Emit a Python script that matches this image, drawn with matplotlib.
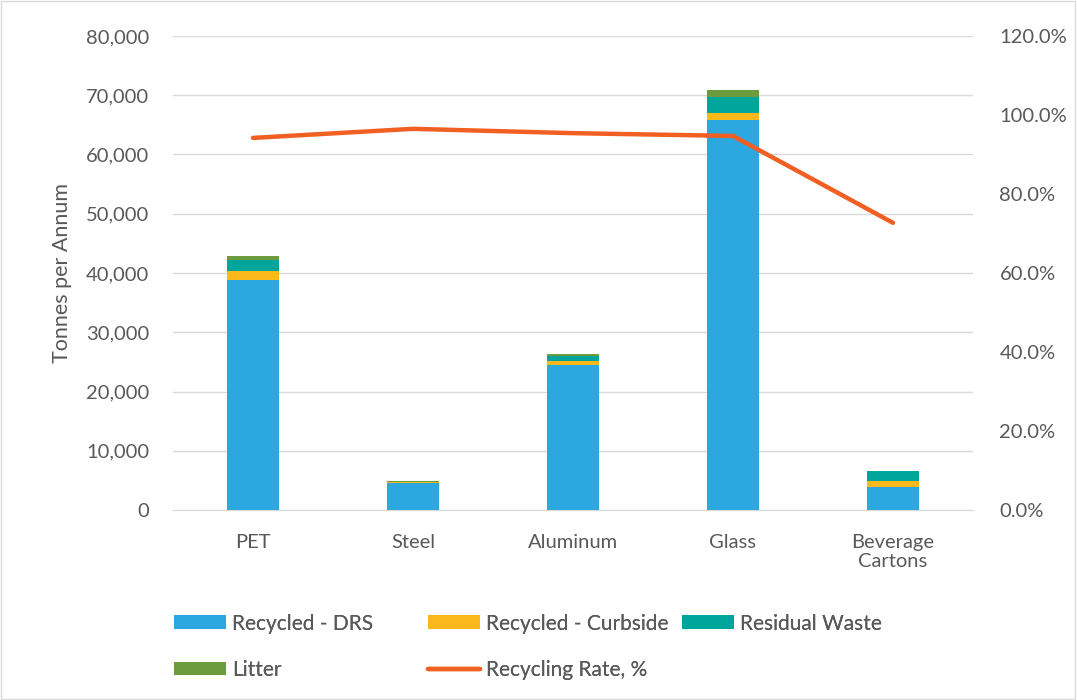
import matplotlib.pyplot as plt
import matplotlib.ticker as mticker
import numpy as np

# data
categories = ['PET', 'Steel', 'Aluminum', 'Glass', 'Beverage\nCartons']
recycled_drs = [38800, 4500, 24400, 65900, 3900]
recycled_curbside = [1550, 250, 700, 1100, 1050]
residual_waste = [1900, 60, 850, 2750, 1700]
litter = [650, 40, 350, 1150, 0]
recycling_rate = [94.2, 96.5, 95.4, 94.7, 72.7]

plt.rcParams['font.family'] = ['Lato', 'DejaVu Sans']
text_col = '#595959'

fig = plt.figure(figsize=(10.77, 7.0), dpi=100)
ax = fig.add_axes([173 / 1077, 1 - 510 / 700, 800 / 1077, 474 / 700])
ax2 = ax.twinx()

x = np.arange(len(categories))
w = 0.32
series = [
    ('Recycled - DRS', recycled_drs, '#2CA7E0'),
    ('Recycled - Curbside', recycled_curbside, '#FAB81A'),
    ('Residual Waste', residual_waste, '#00A59B'),
    ('Litter', litter, '#6C9C3E'),
]
bottom = np.zeros(len(categories))
handles = []
for name, vals, col in series:
    b = ax.bar(x, vals, w, bottom=bottom, color=col, label=name, zorder=3)
    handles.append(b)
    bottom += np.array(vals)

line, = ax2.plot(x, recycling_rate, color='#F15F22', lw=3.2, solid_capstyle='round',
                 label='Recycling Rate, %', zorder=4)

ax.set_xlim(-0.5, len(categories) - 0.5)
ax.set_ylim(0, 80000)
ax.yaxis.set_major_locator(mticker.MultipleLocator(10000))
ax.yaxis.set_major_formatter(mticker.FuncFormatter(lambda v, p: f'{v:,.0f}'))
ax2.set_ylim(0, 120)
ax2.yaxis.set_major_locator(mticker.MultipleLocator(20))
ax2.yaxis.set_major_formatter(mticker.FuncFormatter(lambda v, p: f'{v:.1f}%'))

ax.grid(axis='y', color='#D9D9D9', lw=1, zorder=0)
for a in (ax, ax2):
    for s in a.spines.values():
        s.set_visible(False)
    a.tick_params(length=0, labelsize=14.5, colors=text_col)
ax.spines['bottom'].set_visible(True)
ax.spines['bottom'].set_color('#D9D9D9')
ax.tick_params(axis='y', pad=17)
ax2.tick_params(axis='y', pad=19)
ax.tick_params(axis='x', pad=17)
ax.set_xticks(x)
ax.set_xticklabels(categories)
ax.set_ylabel('Tonnes per Annum', fontsize=15.5, color=text_col, labelpad=10)

# legend laid out in three fixed columns, row by row as in the reference
columns = [
    (168, [handles[0], handles[3]]),
    (422, [handles[1], line]),
    (676, [handles[2]]),
]
for xpos, hs in columns:
    leg = fig.legend(hs, [h.get_label() for h in hs], loc='upper left',
                     bbox_to_anchor=(xpos / 1077 - 0.012, 1 - 595 / 700),
                     frameon=False, fontsize=15, labelcolor=text_col, handlelength=2.5,
                     handleheight=0.65, handletextpad=0.3, labelspacing=1.25)
    fig.add_artist(leg)

fig.patches.append(plt.Rectangle((0.001, 0.001), 0.997, 0.997, transform=fig.transFigure,
                                 fill=False, edgecolor='#D9D9D9', lw=1))

fig.savefig('out.png', dpi=100)
